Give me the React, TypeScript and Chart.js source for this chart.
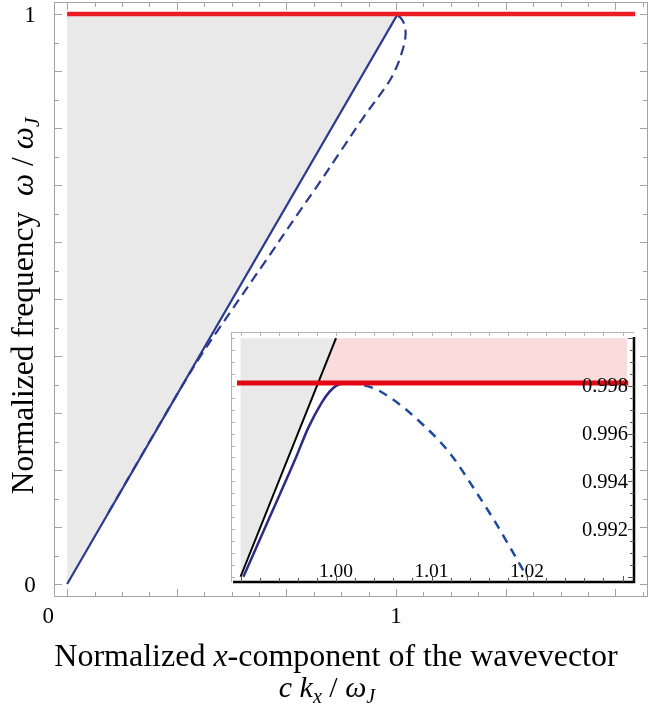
import React, { useEffect, useRef } from 'react';
import { Chart, registerables } from 'chart.js';

Chart.register(...registerables);

const SERIF = '"Liberation Serif", "Times New Roman", Times, serif';

// ---------------- main panel data ----------------
const mainSolidK = [0, 1.003];
const mainSolidW = [0, 0.998];
const mainDashedK = [0.125, 0.3, 0.35, 0.4, 0.458, 0.6, 0.714, 0.754, 0.83, 0.9, 0.976, 1.0, 1.015, 1.025, 1.029, 1.026, 1.016, 1.003];
const mainDashedW = [0.125, 0.299, 0.348, 0.395, 0.445, 0.564, 0.66, 0.693, 0.758, 0.818, 0.879, 0.905, 0.928, 0.948, 0.965, 0.98, 0.992, 0.998];
const mainRedK = [0, 1.727];
const mainRedW = [1, 1];
const mainShadeK = [0, 1, 0, 0];
const mainShadeW = [0, 1, 1, 0];
const mainXTickValues = [0, 1];
const mainXTickLabels = ['0', '1'];
const mainYTickValues = [0, 1];
const mainYTickLabels = ['0', '1'];

// ---------------- inset data ----------------
const insetSolidK = [0.9903, 0.993, 0.9957, 0.9971, 0.9985, 0.9993, 1.0, 1.0007, 1.0013];
const insetSolidW = [0.99, 0.99245, 0.9949, 0.99625, 0.9973, 0.99775, 0.998, 0.9981, 0.99813];
const insetDashedK = [1.0013, 1.0025, 1.0041, 1.0057, 1.0072, 1.0093, 1.0108, 1.0123, 1.0144, 1.0164, 1.0185, 1.02];
const insetDashedW = [0.99813, 0.99806, 0.99788, 0.9975, 0.99705, 0.9963, 0.9957, 0.99498, 0.99372, 0.99247, 0.99104, 0.98999];
const insetLightK = [0.99, 1.0];
const insetLightW = [0.99, 1.0];
const insetShadeK = [0.99, 1.0, 0.99, 0.99];
const insetShadeW = [0.99, 1.0, 1.0, 0.99];
const insetPinkK = [0.99812, 1.0, 1.0305, 1.0305, 0.99812];
const insetPinkW = [0.99812, 1.0, 1.0, 0.99812, 0.99812];
const insetRedK = [0.98963, 1.0306];
const insetRedW = [0.99812, 0.99812];
const insetXTickValues = [1.0, 1.01, 1.02];
const insetXTickLabels = ['1.00', '1.01', '1.02'];
const insetYTickValues = [0.998, 0.996, 0.994, 0.992];
const insetYTickLabels = ['0.998', '0.996', '0.994', '0.992'];

const pts = (xs: number[], ys: number[]) => xs.map((x, i) => ({ x, y: ys[i] }));

type Seg = { t: string; it?: boolean; sub?: boolean };

function drawRich(ctx: CanvasRenderingContext2D, segs: Seg[], x: number, y: number, size: number) {
  const font = (s: Seg) => `${s.it ? 'italic ' : ''}${s.sub ? Math.round(size * 0.66) : size}px ${SERIF}`;
  let total = 0;
  for (const s of segs) {
    ctx.font = font(s);
    total += ctx.measureText(s.t).width;
  }
  let cx = x - total / 2;
  ctx.textAlign = 'left';
  ctx.textBaseline = 'alphabetic';
  for (const s of segs) {
    ctx.font = font(s);
    ctx.fillText(s.t, cx, y + (s.sub ? size * 0.2 : 0));
    cx += ctx.measureText(s.t).width;
  }
}

const mainDecor = {
  id: 'mainDecor',
  afterDraw(chart: any) {
    const { ctx, chartArea: a, scales } = chart;
    const x = scales.x;
    const y = scales.y;
    ctx.save();
    ctx.strokeStyle = '#a3a3a3';
    ctx.lineWidth = 1;
    ctx.strokeRect(a.left + 0.5, a.top + 0.5, a.right - a.left - 1, a.bottom - a.top - 1);
    ctx.beginPath();
    for (let i = 0; i <= 21; i++) {
      const px = Math.round(x.getPixelForValue(i / 12)) + 0.5;
      const len = i % 4 === 0 ? 8 : 5;
      ctx.moveTo(px, a.top);
      ctx.lineTo(px, a.top + len);
      ctx.moveTo(px, a.bottom);
      ctx.lineTo(px, a.bottom - len);
    }
    for (let i = 0; i <= 20; i++) {
      const py = Math.round(y.getPixelForValue(i * 0.05)) + 0.5;
      const len = i % 2 === 0 ? 8 : 5;
      ctx.moveTo(a.left, py);
      ctx.lineTo(a.left + len, py);
      ctx.moveTo(a.right, py);
      ctx.lineTo(a.right - len, py);
    }
    ctx.stroke();

    ctx.fillStyle = '#000';
    ctx.font = `23px ${SERIF}`;
    ctx.textAlign = 'center';
    ctx.textBaseline = 'alphabetic';
    const xShift = [-19, 0];
    mainXTickValues.forEach((v, i) => {
      ctx.fillText(mainXTickLabels[i], x.getPixelForValue(v) + xShift[i], a.bottom + 26);
    });
    mainYTickValues.forEach((v, i) => {
      ctx.fillText(mainYTickLabels[i], 30, y.getPixelForValue(v) + 8);
    });

    drawRich(ctx, [
      { t: 'Normalized ' },
      { t: 'x', it: true },
      { t: '-component of the wavevector' },
    ], 336, 666, 32);
    drawRich(ctx, [
      { t: 'c k', it: true },
      { t: 'x', it: true, sub: true },
      { t: ' / ' },
      { t: 'ω', it: true },
      { t: 'J', it: true, sub: true },
    ], 327, 697, 30);

    ctx.save();
    ctx.translate(33, 306);
    ctx.rotate(-Math.PI / 2);
    drawRich(ctx, [
      { t: 'Normalized frequency  ' },
      { t: 'ω', it: true },
      { t: ' / ' },
      { t: 'ω', it: true },
      { t: 'J', it: true, sub: true },
    ], 0, 0, 31.5);
    ctx.restore();
    ctx.restore();
  },
};

const insetDecor = {
  id: 'insetDecor',
  beforeDraw(chart: any) {
    const { ctx } = chart;
    ctx.save();
    ctx.fillStyle = '#ffffff';
    ctx.fillRect(0, 0, chart.width, chart.height);
    ctx.restore();
  },
  afterDraw(chart: any) {
    const { ctx, chartArea: a, scales } = chart;
    const x = scales.x;
    const y = scales.y;
    ctx.save();
    ctx.strokeStyle = '#b3b3b3';
    ctx.lineWidth = 1;
    ctx.beginPath();
    ctx.moveTo(0.5, a.bottom);
    ctx.lineTo(0.5, 0.5);
    ctx.lineTo(a.right, 0.5);
    for (let i = 0; i <= 20; i++) {
      const py = Math.round(y.getPixelForValue(0.99 + i * 0.0005)) + 0.5;
      ctx.moveTo(0, py);
      ctx.lineTo(4, py);
    }
    for (let i = 0; i <= 20; i++) {
      const px = Math.round(x.getPixelForValue(0.99 + i * 0.002)) + 0.5;
      ctx.moveTo(px, 0);
      ctx.lineTo(px, 4);
    }
    ctx.stroke();

    ctx.strokeStyle = '#000';
    ctx.lineWidth = 2.5;
    ctx.beginPath();
    ctx.moveTo(a.left, a.bottom);
    ctx.lineTo(a.right + 1.25, a.bottom);
    ctx.moveTo(a.right, a.top);
    ctx.lineTo(a.right, a.bottom);
    ctx.stroke();
    ctx.lineWidth = 1;
    ctx.strokeStyle = '#555';
    ctx.beginPath();
    for (let i = 0; i <= 20; i++) {
      const px = Math.round(x.getPixelForValue(0.99 + i * 0.002)) + 0.5;
      const len = i % 5 === 0 ? 6 : 4;
      ctx.moveTo(px, a.bottom);
      ctx.lineTo(px, a.bottom - len);
    }
    for (let i = 0; i <= 20; i++) {
      const py = Math.round(y.getPixelForValue(0.99 + i * 0.0005)) + 0.5;
      const len = i % 4 === 0 ? 6 : 4;
      ctx.moveTo(a.right, py);
      ctx.lineTo(a.right - len, py);
    }
    ctx.stroke();

    ctx.fillStyle = '#000';
    ctx.font = `19.5px ${SERIF}`;
    ctx.textBaseline = 'alphabetic';
    ctx.textAlign = 'center';
    insetXTickValues.forEach((v, i) => {
      ctx.fillText(insetXTickLabels[i], x.getPixelForValue(v), a.bottom - 5);
    });
    ctx.font = `20.5px ${SERIF}`;
    ctx.textAlign = 'right';
    insetYTickValues.forEach((v, i) => {
      ctx.fillText(insetYTickLabels[i], a.right - 6, y.getPixelForValue(v) + 6.5);
    });
    ctx.restore();
  },
};

export default function App() {
  const mainRef = useRef<HTMLCanvasElement | null>(null);
  const insetRef = useRef<HTMLCanvasElement | null>(null);

  useEffect(() => {
    const common = {
      animation: false as const,
      responsive: false,
      events: [] as any[],
      plugins: { legend: { display: false }, tooltip: { enabled: false } },
      elements: { point: { radius: 0 } },
    };
    const main = new Chart(mainRef.current!, {
      type: 'line',
      data: {
        datasets: [
          { data: pts(mainRedK, mainRedW), borderColor: '#ec1c24', borderWidth: 4.5, borderCapStyle: 'butt', fill: false },
          { data: pts(mainDashedK, mainDashedW), borderColor: '#2a3b8f', borderWidth: 2.2, borderDash: [10, 6], tension: 0.35, fill: false },
          { data: pts(mainSolidK, mainSolidW), borderColor: '#2a3b8f', borderWidth: 2.2, fill: false },
          { data: pts(mainShadeK, mainShadeW), borderColor: 'rgba(0,0,0,0)', borderWidth: 0, backgroundColor: '#e9e9e9', fill: 'shape' },
        ] as any,
      },
      options: {
        ...common,
        layout: { padding: { left: 54, top: 2, right: 19, bottom: 116 } },
        scales: {
          x: { type: 'linear', display: false, min: -0.04, max: 1.766 },
          y: { type: 'linear', display: false, min: -0.0228, max: 1.0211 },
        },
      } as any,
      plugins: [mainDecor],
    });

    const inset = new Chart(insetRef.current!, {
      type: 'line',
      data: {
        datasets: [
          { data: pts(insetRedK, insetRedW), borderColor: '#e30613', borderWidth: 5, borderCapStyle: 'butt', fill: false },
          { data: pts(insetDashedK, insetDashedW), borderColor: '#1f4a9a', borderWidth: 2.5, borderDash: [9, 7], cubicInterpolationMode: 'monotone', fill: false },
          { data: pts(insetSolidK, insetSolidW), borderColor: '#2e2a88', borderWidth: 2.5, cubicInterpolationMode: 'monotone', fill: false },
          { data: pts(insetLightK, insetLightW), borderColor: '#000000', borderWidth: 2, fill: false },
          { data: pts(insetPinkK, insetPinkW), borderColor: 'rgba(0,0,0,0)', borderWidth: 0, backgroundColor: '#fadcdc', fill: 'shape' },
          { data: pts(insetShadeK, insetShadeW), borderColor: 'rgba(0,0,0,0)', borderWidth: 0, backgroundColor: '#e9e9e9', fill: 'shape' },
        ] as any,
      },
      options: {
        ...common,
        layout: { padding: { left: 2, top: 5, right: 2, bottom: 2 } },
        scales: {
          x: { type: 'linear', display: false, min: 0.98921, max: 1.0312 },
          y: { type: 'linear', display: false, min: 0.98978, max: 1.00005 },
        },
      } as any,
      plugins: [insetDecor],
    });

    return () => {
      main.destroy();
      inset.destroy();
    };
  }, []);

  return (
    <div style={{ position: 'absolute', left: 0, top: 0, width: 667, height: 713, background: '#fff' }}>
      <canvas ref={mainRef} width={667} height={713} style={{ position: 'absolute', left: 0, top: 0, width: 667, height: 713 }} />
      <canvas ref={insetRef} width={405} height={252} style={{ position: 'absolute', left: 231, top: 332, width: 405, height: 252 }} />
    </div>
  );
}
